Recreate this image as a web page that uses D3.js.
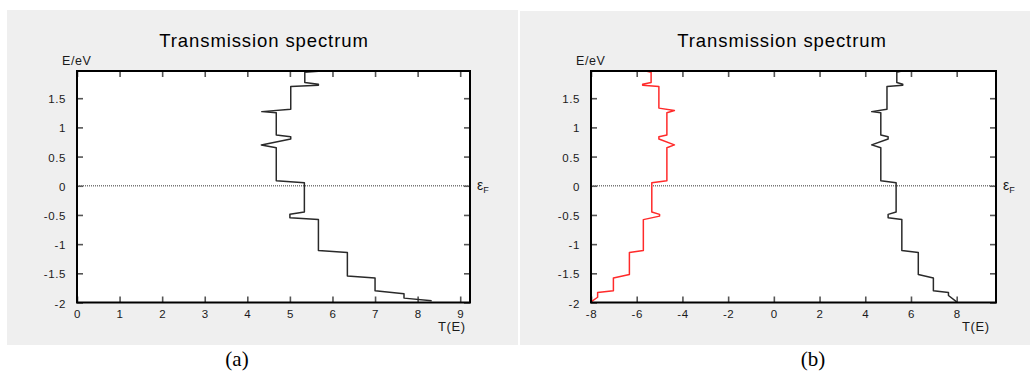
<!DOCTYPE html>
<html><head><meta charset="utf-8">
<script src="https://cdn.jsdelivr.net/npm/d3@7"></script>
<style>html,body{margin:0;padding:0;background:#fff;}svg{display:block;}</style>
</head><body>
<svg id="c" width="1030" height="371"></svg>
<script>
// ---- data ----
const yTicks = [-2, -1.5, -1, -0.5, 0, 0.5, 1, 1.5];
const xTicksA = [0, 1, 2, 3, 4, 5, 6, 7, 8, 9];
const xTicksB = [-8, -6, -4, -2, 0, 2, 4, 6, 8];
const titleText = "Transmission spectrum";
const yLabel = "E/eV";
const xLabel = "T(E)";
const panelLabels = ["(a)", "(b)"];

// panel (a) transmission curve
const E_a = [1.965, 1.945, 1.77, 1.74, 1.72, 1.70, 1.31, 1.27, 1.25, 0.87, 0.84, 0.80, 0.70, 0.65, 0.085, 0.05, -0.45, -0.49, -0.55, -0.58, -1.11, -1.145, -1.545, -1.58, -1.80, -1.85, -1.925, -1.97];
const T_a = [5.75, 5.35, 5.35, 5.67, 5.67, 5.02, 5.02, 4.34, 4.68, 4.68, 5.02, 5.02, 4.33, 4.68, 4.68, 5.34, 5.34, 5.0, 5.0, 5.67, 5.67, 6.35, 6.35, 7.0, 7.0, 7.68, 7.68, 8.33];
// panel (b) black curve
const E_b = [1.965, 1.945, 1.77, 1.74, 1.72, 1.70, 1.31, 1.27, 1.25, 0.87, 0.84, 0.80, 0.70, 0.65, 0.085, 0.05, -0.45, -0.49, -0.55, -0.58, -1.11, -1.145, -1.52, -1.58, -1.80, -1.83, -1.88, -1.99];
const T_b = [5.6, 5.38, 5.38, 5.64, 5.64, 4.95, 4.95, 4.28, 4.68, 4.68, 5.0, 5.0, 4.28, 4.68, 4.68, 5.35, 5.35, 5.0, 5.0, 5.6, 5.6, 6.32, 6.32, 6.98, 6.98, 7.64, 7.64, 8.0];
// panel (b) red curve
const E_r = [1.965, 1.945, 1.77, 1.74, 1.72, 1.70, 1.33, 1.29, 1.25, 0.87, 0.84, 0.80, 0.70, 0.65, 0.085, 0.05, -0.45, -0.49, -0.52, -0.58, -1.11, -1.145, -1.52, -1.58, -1.80, -1.83, -1.91, -1.99];
const T_r = [-5.6, -5.37, -5.37, -5.74, -5.74, -5.03, -5.03, -4.35, -4.68, -4.68, -5.03, -5.03, -4.35, -4.68, -4.68, -5.34, -5.34, -5.0, -5.0, -5.71, -5.71, -6.32, -6.32, -7.02, -7.02, -7.71, -7.71, -8.0];

// ---- layout ----
const svg = d3.select("#c");
const font = "'Liberation Sans', Arial, sans-serif";

const panels = [
  {bg:[7,10,511,335], plot:{l:77,r:470,t:71,b:302.5}, xDomain:[0,9.23], xTicks:xTicksA,
   titleX:264, yLabX:62, xLabX:438, labelX:237,
   series:[{E:E_a,T:T_a,color:"#2a2a2a"}]},
  {bg:[520,11,510,334], plot:{l:591,r:996,t:71,b:302.5}, xDomain:[-8,9.72], xTicks:xTicksB,
   titleX:782, yLabX:576, xLabX:962, labelX:813,
   series:[{E:E_r,T:T_r,color:"#ff2a2a"},{E:E_b,T:T_b,color:"#2a2a2a"}]}
];

panels.forEach((p, i) => {
  const g = svg.append("g");
  g.append("rect").attr("x",p.bg[0]).attr("y",p.bg[1]).attr("width",p.bg[2]).attr("height",p.bg[3]).attr("fill","#efefef");
  const P = p.plot;
  const x = d3.scaleLinear().domain(p.xDomain).range([P.l, P.r]);
  const y = d3.scaleLinear().domain([-2, 1.966]).range([P.b, P.t]);
  g.append("rect").attr("x",P.l).attr("y",P.t).attr("width",P.r-P.l).attr("height",P.b-P.t).attr("fill","#fff");

  const tl = 6;
  const bx = g.append("g").attr("transform",`translate(0,${P.b})`)
    .call(d3.axisBottom(x).tickValues(p.xTicks).tickSizeInner(-tl).tickSizeOuter(0).tickPadding(10).tickFormat(d=>String(d)));
  const tx = g.append("g").attr("transform",`translate(0,${P.t})`)
    .call(d3.axisTop(x).tickValues(p.xTicks).tickSizeInner(-tl).tickSizeOuter(0).tickFormat(""));
  const ly = g.append("g").attr("transform",`translate(${P.l},0)`)
    .call(d3.axisLeft(y).tickValues(yTicks).tickSizeInner(-tl).tickSizeOuter(0).tickPadding(11).tickFormat(d=>String(d)));
  const ry = g.append("g").attr("transform",`translate(${P.r},0)`)
    .call(d3.axisRight(y).tickValues(yTicks).tickSizeInner(-tl).tickSizeOuter(0).tickFormat(""));
  [bx,tx,ly,ry].forEach(a=>{
    a.select(".domain").remove();
    a.selectAll(".tick line").attr("stroke","#555").attr("stroke-width",1.6);
    a.selectAll(".tick text").attr("fill","#1a1a1a").style("font-family",font).style("font-size","11.5px").style("letter-spacing","0.6px");
  });
  ly.selectAll(".tick text").attr("dy","0.4em");
  bx.selectAll(".tick text").attr("dy","0.5em");

  // Fermi level line
  g.append("line").attr("x1",P.l).attr("x2",P.r).attr("y1",y(0)).attr("y2",y(0))
    .attr("stroke","#777").attr("stroke-width",1.4).attr("stroke-dasharray","1,1");

  // curves
  const clipId = "clip"+i;
  g.append("clipPath").attr("id",clipId).append("rect")
    .attr("x",P.l).attr("y",P.t).attr("width",P.r-P.l).attr("height",P.b-P.t);
  p.series.forEach(s => {
    const pts = s.E.map((e,k)=>[s.T[k], e]);
    g.append("path").datum(pts).attr("clip-path",`url(#${clipId})`)
      .attr("d", d3.line().x(d=>x(d[0])).y(d=>y(d[1])))
      .attr("fill","none").attr("stroke",s.color).attr("stroke-width",1.5).attr("stroke-linejoin","round");
  });

  // frame
  g.append("rect").attr("x",P.l).attr("y",P.t).attr("width",P.r-P.l).attr("height",P.b-P.t)
    .attr("fill","none").attr("stroke","#000").attr("stroke-width",2);

  // texts
  g.append("text").attr("x",p.titleX).attr("y",47).attr("text-anchor","middle")
    .style("font-family",font).style("font-size","18.5px").style("letter-spacing","0.9px").attr("fill","#000").text(titleText);
  g.append("text").attr("x",p.yLabX).attr("y",65)
    .style("font-family",font).style("font-size","12.5px").style("letter-spacing","0.6px").attr("fill","#1a1a1a").text(yLabel);
  g.append("text").attr("x",p.xLabX).attr("y",331)
    .style("font-family",font).style("font-size","13px").style("letter-spacing","0.6px").attr("fill","#1a1a1a").text(xLabel);
  const ef = g.append("text").attr("x",P.r+7).attr("y",y(0)+4)
    .style("font-family",font).style("font-size","14px").attr("fill","#1a1a1a");
  ef.append("tspan").text("ε");
  ef.append("tspan").attr("dy",3).style("font-size","9px").text("F");
  svg.append("text").attr("x",p.labelX).attr("y",366).attr("text-anchor","middle")
    .style("font-family","'Liberation Serif','Times New Roman',serif").style("font-size","21px").attr("fill","#000").text(panelLabels[i]);
});
</script>
</body></html>
